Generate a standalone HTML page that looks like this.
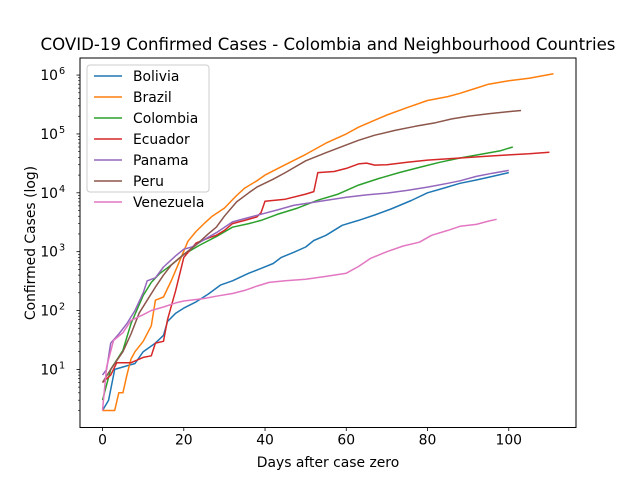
<!DOCTYPE html>
<html><head><meta charset="utf-8"><style>
body{margin:0;background:#fff;}
svg{display:block;font-family:"DejaVu Sans","Liberation Sans",sans-serif;}
</style></head><body>
<svg id="chart" width="640" height="480" viewBox="0 0 640 480" xmlns="http://www.w3.org/2000/svg">
<rect width="640" height="480" fill="#fff"/>
<text x="328" y="50" font-size="16.6" text-anchor="middle">COVID-19 Confirmed Cases - Colombia and Neighbourhood Countries</text>
<g id="plot"></g>
<rect x="80" y="58" width="496" height="369.5" fill="none" stroke="#000" stroke-width="1"/>
<text x="328" y="467" font-size="13.9" text-anchor="middle">Days after case zero</text>
<text transform="translate(35,243) rotate(-90)" font-size="13.9" text-anchor="middle">Confirmed Cases (log)</text>
<g id="legend"></g>
</svg>
<script>
const seriesNames=["Bolivia","Brazil","Colombia","Ecuador","Panama","Peru","Venezuela"];
const seriesColors=["#1f77b4","#ff7f0e","#2ca02c","#d62728","#9467bd","#8c564b","#e377c2"];
const boliviaDays=[0,1.5,3,5,8,10,13,15,16,18,20,23,26,29,32,36,39,42,44,47,50,52,55,59,63,67,71,76,80,84,88,92,96,100];
const boliviaCases=[2,3,10,11,12.6,20,28,38,65,90,110,140,190,270,320,430,520,630,800,970,1200,1550,1900,2800,3400,4200,5300,7400,10000,12000,14500,16500,19000,22000];
const brazilDays=[0,3,4,5,6,7,8,10,12,13,15,17,19,21,23,25,27,30,33,35,38,40,45,50,55,60,63,66,70,75,80,85,88,92,95,100,105,111];
const brazilCases=[2,2,4,4,8,15,20,30,55,150,170,330,700,1500,2200,3000,4000,5500,9000,12000,16000,20000,30000,45000,70000,100000,130000,160000,210000,280000,370000,430000,490000,600000,700000,800000,880000,1050000];
const colombiaDays=[0,2,5,7,10,12,14,17,20,24,28,32,36,39,43,48,53,58,63,68,73,78,83,88,93,98,101];
const colombiaCases=[3,10,21,60,180,300,420,600,900,1300,1800,2600,3000,3400,4300,5500,7500,9500,13500,17500,22000,27000,33000,39000,45000,52000,60000];
const ecuadorDays=[0,2,3.5,7,10,12,13,15,16,18,20,23,26,28,30,32,35,38,39,40,45,50,52,53,57,60,63,65,67,70,75,80,88,95,100,105,110];
const ecuadorCases=[6,8,13,13,16,17,28,30,70,220,800,1400,1700,1900,2300,3000,3400,3900,4600,7200,7800,9500,10500,22000,23000,26000,31000,32000,29500,30000,33000,36000,39000,42000,44000,46000,49000];
const panamaDays=[0,1,2,4,6,8,10,11,13,15,18,20,22,25,28,32,36,40,43,47,52,56,60,65,70,75,80,85,88,92,96,100];
const panamaCases=[8,10,28,40,60,100,200,320,360,550,850,1100,1200,1600,2100,3200,3800,4500,5100,6100,6900,7600,8400,9200,9900,11000,12500,14500,16000,19000,21500,24000];
const peruDays=[0,2,5,7,9,11,13,15,17,20,23,26,28,30,33,36,38,42,45,50,55,60,63,67,72,77,82,86,90,95,100,103];
const peruCases=[6,10,20,40,90,150,250,400,600,900,1300,2000,2600,4000,7000,10000,12500,17000,22000,35000,48000,65000,78000,95000,115000,135000,155000,180000,200000,220000,240000,250000];
const venezuelaDays=[0,1,2.7,5,7,10,12,15,18,20,25,28,32,35,38,41,45,50,55,60,63,66,70,74,78,81,85,88,92,95,97];
const venezuelaCases=[2,11,31,42,68,85,100,115,135,145,160,175,195,220,260,300,320,340,380,430,560,770,1000,1250,1450,1900,2300,2700,2900,3300,3550];
const xTicks=[0,20,40,60,80,100];
const yTickExps=[1,2,3,4,5,6];

const allDays=[boliviaDays,brazilDays,colombiaDays,ecuadorDays,panamaDays,peruDays,venezuelaDays];
const allCases=[boliviaCases,brazilCases,colombiaCases,ecuadorCases,panamaCases,peruCases,venezuelaCases];
const L=80,R=576,T=58,B=427.5;
const xMin=-5.55,xMax=116.55;
const yLogMin=0.013,yLogMax=6.29;
function xs(d){return L+(d-xMin)/(xMax-xMin)*(R-L);}
function ys(v){return B-(Math.log10(v)-yLogMin)/(yLogMax-yLogMin)*(B-T);}
const NS="http://www.w3.org/2000/svg";
const plot=document.getElementById('plot');
const svg=document.getElementById('chart');
function mk(tag,attrs,parent){const e=document.createElementNS(NS,tag);for(const k in attrs)e.setAttribute(k,attrs[k]);parent.appendChild(e);return e;}
xTicks.forEach(t=>{
  const x=xs(t);
  const tk=mk('line',{x1:x,x2:x,y1:B,y2:B+3.5,stroke:'#000','stroke-width':0.8},svg);
  
  
  const lb=mk('text',{x:x,y:B+17,'font-size':13.9,'text-anchor':'middle'},svg);
  
  
  lb.textContent=String(t);
});
for(let e=0;e<=6;e++){
  for(let m=1;m<10;m++){
    const v=m*Math.pow(10,e);
    const lv=Math.log10(v);
    if(lv<yLogMin||lv>yLogMax)continue;
    const y=ys(v);
    const major=(m===1);
    const tk=mk('line',{x1:L-(major?3.5:2),x2:L,y1:y,y2:y,stroke:'#000','stroke-width':major?0.8:0.6},svg);
    
    
  }
}
yTickExps.forEach(p=>{
  const y=ys(Math.pow(10,p));
  const lb=mk('text',{x:L-22,y:y+5,'font-size':13.9,'text-anchor':'end'},svg);
  
  
  lb.textContent='10';
  const sp=mk('text',{x:L-21,y:y-1,'font-size':9.7,'text-anchor':'start'},svg);
  
  
  sp.textContent=String(p);
});
seriesNames.forEach((n,i)=>{
  const d=allDays[i],c=allCases[i];
  const pts=d.map((dd,j)=>xs(dd).toFixed(1)+','+ys(c[j]).toFixed(1)).join(' ');
  const pl=mk('polyline',{points:pts,fill:'none',stroke:seriesColors[i],'stroke-width':1.5,'stroke-linejoin':'round'},plot);
  
  
});
const lg=document.getElementById('legend');
const box=mk('rect',{x:87,y:65,width:122,height:127,rx:3,fill:'#fff','fill-opacity':0.8,stroke:'#ccc','stroke-width':1},lg);


seriesNames.forEach((n,i)=>{
  const y=76+i*21;
  const g=mk('g',{},lg);
  
  
  mk('line',{x1:94,x2:122,y1:y,y2:y,stroke:seriesColors[i],'stroke-width':1.5},g);
  const t=mk('text',{x:133,y:y+5,'font-size':13.9},g);
  t.textContent=n;
});
</script>
</body></html>
